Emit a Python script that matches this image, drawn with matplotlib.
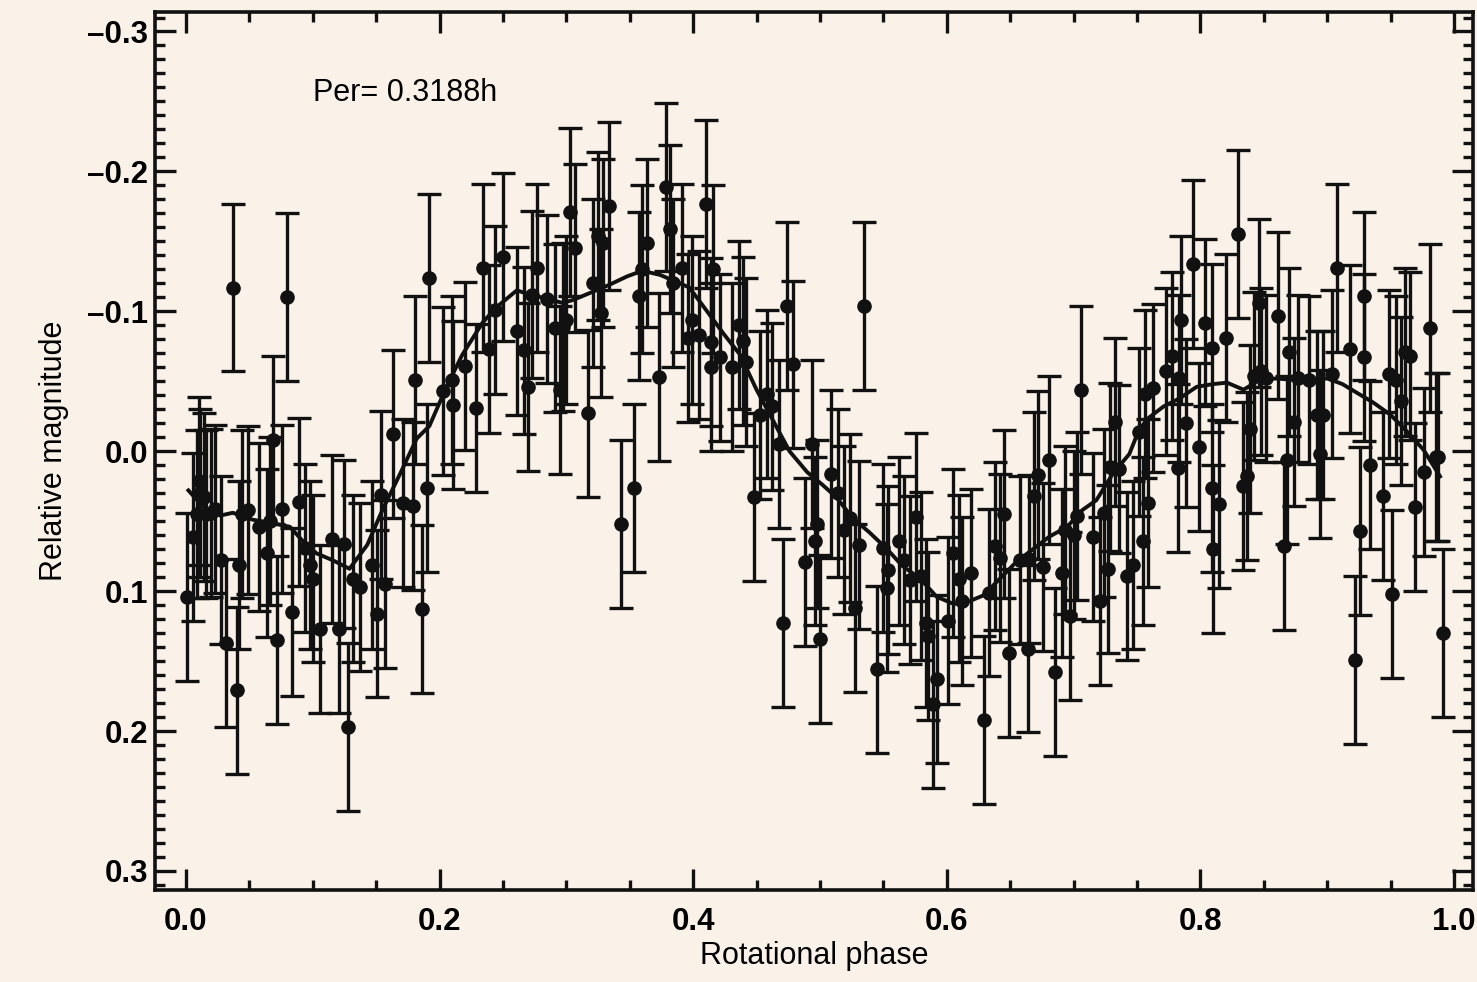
import numpy as np
import matplotlib
matplotlib.use('Agg')
import matplotlib.pyplot as plt
from matplotlib.ticker import MultipleLocator, FuncFormatter

# measured points (rotational phase, relative magnitude)
phase = [0.001, 0.006, 0.009, 0.010, 0.011, 0.014, 0.016, 0.020, 0.023, 0.028,
         0.032, 0.037, 0.040, 0.042, 0.044, 0.049, 0.058, 0.064, 0.066, 0.069,
         0.072, 0.076, 0.080, 0.084, 0.089,
         0.094, 0.098, 0.100, 0.106, 0.115, 0.121, 0.125, 0.128, 0.132, 0.137,
         0.147, 0.151, 0.154, 0.157, 0.163, 0.171, 0.179, 0.181, 0.186, 0.190,
         0.192,
         0.203, 0.210, 0.211, 0.220, 0.229, 0.234, 0.239, 0.244, 0.250, 0.261,
         0.267, 0.270, 0.273, 0.277, 0.285, 0.291, 0.295, 0.297,
         0.300, 0.303, 0.307, 0.317, 0.321, 0.325, 0.327, 0.329, 0.334, 0.343,
         0.353, 0.357, 0.360, 0.364, 0.373, 0.379, 0.382, 0.384, 0.391, 0.396,
         0.399,
         0.405, 0.410, 0.414, 0.414, 0.416, 0.421, 0.431, 0.436, 0.439, 0.442,
         0.448, 0.453, 0.458, 0.462, 0.468, 0.471, 0.474, 0.479, 0.488, 0.494,
         0.496, 0.498, 0.500,
         0.509, 0.514, 0.519, 0.524, 0.528, 0.531, 0.535, 0.545, 0.550, 0.553,
         0.554, 0.562, 0.566, 0.571, 0.576, 0.580, 0.584, 0.585, 0.589, 0.592,
         0.601, 0.605,
         0.610, 0.612, 0.619, 0.629, 0.633, 0.638, 0.642, 0.645, 0.649, 0.658,
         0.664, 0.665, 0.669, 0.672, 0.676, 0.681, 0.685, 0.691, 0.693, 0.697,
         0.700, 0.703, 0.706,
         0.715, 0.721, 0.724, 0.727, 0.729, 0.733, 0.736, 0.742, 0.747, 0.752,
         0.755, 0.756, 0.759, 0.763, 0.773, 0.778, 0.782, 0.783, 0.785, 0.789,
         0.794, 0.799, 0.804, 0.809, 0.809, 0.810,
         0.815, 0.820, 0.830, 0.834, 0.837, 0.839, 0.842, 0.846, 0.848, 0.852,
         0.861, 0.866, 0.868, 0.870, 0.874, 0.877, 0.886, 0.892, 0.894, 0.897,
         0.904, 0.908,
         0.918, 0.922, 0.926, 0.929, 0.929, 0.934, 0.944, 0.949, 0.951, 0.954,
         0.958, 0.961, 0.965, 0.969, 0.976, 0.981, 0.986, 0.987, 0.991]
mag = [0.104, 0.061, 0.045, 0.021, 0.030, 0.033, 0.045, 0.044, 0.041, 0.078,
       0.137, -0.117, 0.171, 0.081, 0.045, 0.042, 0.054, 0.073, 0.050, -0.008,
       0.135, 0.041, -0.110, 0.115, 0.036,
       0.069, 0.081, 0.091, 0.127, 0.063, 0.127, 0.066, 0.197, 0.091, 0.097,
       0.081, 0.116, 0.031, 0.095, -0.012, 0.037, 0.039, -0.051, 0.113, 0.026,
       -0.124,
       -0.043, -0.051, -0.033, -0.061, -0.031, -0.131, -0.073, -0.101, -0.139, -0.086,
       -0.072, -0.046, -0.112, -0.131, -0.109, -0.088, -0.044, -0.089,
       -0.094, -0.171, -0.145, -0.027, -0.120, -0.154, -0.099, -0.149, -0.175, 0.052,
       0.026, -0.111, -0.130, -0.149, -0.053, -0.189, -0.159, -0.120, -0.131, -0.081,
       -0.094,
       -0.083, -0.177, -0.078, -0.060, -0.130, -0.067, -0.060, -0.090, -0.079, -0.064,
       0.033, -0.026, -0.041, -0.032, -0.005, 0.123, -0.104, -0.062, 0.079, -0.005,
       0.064, 0.052, 0.134,
       0.016, 0.030, 0.056, 0.048, 0.112, 0.067, -0.104, 0.156, 0.069, 0.098,
       0.085, 0.064, 0.078, 0.092, 0.047, 0.089, 0.123, 0.132, 0.181, 0.163,
       0.121, 0.073,
       0.091, 0.107, 0.087, 0.192, 0.101, 0.068, 0.076, 0.045, 0.144, 0.078,
       0.141, 0.077, 0.032, 0.017, 0.083, 0.006, 0.158, 0.087, 0.056, 0.118,
       0.060, 0.046, -0.044,
       0.061, 0.107, 0.044, 0.084, 0.011, -0.021, 0.013, 0.089, 0.081, -0.014,
       0.064, -0.041, 0.037, -0.045, -0.057, -0.068, 0.012, -0.052, -0.094, -0.020,
       -0.134, -0.003, -0.092, -0.074, 0.026, 0.070,
       0.038, -0.081, -0.155, 0.025, 0.018, -0.016, -0.054, -0.106, -0.057, -0.052,
       -0.097, 0.068, 0.006, -0.071, -0.021, -0.052, -0.051, -0.026, 0.002, -0.026,
       -0.055, -0.131,
       -0.073, 0.149, 0.057, -0.111, -0.067, 0.010, 0.032, -0.055, 0.102, -0.051,
       -0.036, -0.071, -0.068, 0.040, 0.015, -0.088, 0.004, 0.004, 0.130]
err = 0.06

# smooth fit curve
fit_phase = [0.002, 0.013, 0.027, 0.037, 0.053, 0.066, 0.082, 0.092, 0.103, 0.116,
             0.129, 0.143, 0.155, 0.169, 0.182, 0.192, 0.206, 0.218, 0.234, 0.245,
             0.261, 0.271, 0.285, 0.297, 0.305, 0.321, 0.334, 0.348, 0.360, 0.374,
             0.387, 0.397, 0.411, 0.424, 0.437, 0.450, 0.463, 0.476, 0.490, 0.502,
             0.513, 0.526, 0.539, 0.553, 0.565, 0.579, 0.592, 0.605, 0.613, 0.629,
             0.642, 0.655, 0.668, 0.681, 0.695, 0.707, 0.718, 0.731, 0.744, 0.751,
             0.758, 0.771, 0.784, 0.797, 0.810, 0.821, 0.834, 0.847, 0.860, 0.873,
             0.886, 0.900, 0.912, 0.923, 0.936, 0.950, 0.963, 0.976, 0.989]
fit_mag = [0.028, 0.039, 0.046, 0.044, 0.049, 0.051, 0.054, 0.064, 0.073, 0.078,
           0.084, 0.067, 0.042, 0.016, -0.009, -0.018, -0.047, -0.069, -0.092, -0.103,
           -0.115, -0.112, -0.109, -0.106, -0.108, -0.114, -0.119, -0.125, -0.129, -0.126,
           -0.121, -0.117, -0.100, -0.084, -0.069, -0.044, -0.022, 0.000, 0.015, 0.024,
           0.033, 0.048, 0.058, 0.070, 0.082, 0.091, 0.104, 0.109, 0.109, 0.103,
           0.091, 0.079, 0.070, 0.061, 0.054, 0.042, 0.035, 0.016, 0.002, -0.014,
           -0.023, -0.032, -0.038, -0.046, -0.048, -0.049, -0.044, -0.051, -0.052, -0.051,
           -0.051, -0.052, -0.048, -0.042, -0.035, -0.026, -0.014, -0.001, 0.018]

bg = '#faf2e9'
ink = '#111111'

plt.rcParams['font.family'] = ['Liberation Sans', 'DejaVu Sans']

fig = plt.figure(figsize=(14.77, 9.82), dpi=100, facecolor=bg)
ax = fig.add_axes([0.1049, 0.0937, 0.8924, 0.8936], facecolor=bg)

ax.errorbar(phase, mag, yerr=err, fmt='o', color=ink, ms=9.5, elinewidth=2.4,
            capsize=8.5, capthick=2.4, zorder=2)
ax.plot(fit_phase, fit_mag, color=ink, lw=2.8, zorder=3)

ax.set_xlim(-0.0244, 1.0150)
ax.set_ylim(0.3136, -0.3136)

def fmt(v, pos):
    s = '%.1f' % abs(v)
    return '\u2013' + s if v < -1e-9 else s

ax.xaxis.set_major_locator(MultipleLocator(0.2))
ax.xaxis.set_minor_locator(MultipleLocator(0.05))
ax.yaxis.set_major_locator(MultipleLocator(0.1))
ax.yaxis.set_minor_locator(MultipleLocator(0.01))
ax.xaxis.set_major_formatter(FuncFormatter(fmt))
ax.yaxis.set_major_formatter(FuncFormatter(fmt))

ax.tick_params(which='both', direction='in', top=True, right=True, width=2.4,
               color=ink)
ax.tick_params(which='major', length=15)
ax.tick_params(which='minor', length=7)
ax.tick_params(axis='x', which='major', pad=12, labelsize=22.5)
ax.tick_params(axis='y', which='major', pad=5, labelsize=22.5)
for lab in ax.get_xticklabels() + ax.get_yticklabels():
    lab.set_fontweight('bold')
for sp in ax.spines.values():
    sp.set_linewidth(2.6)
    sp.set_color(ink)

ax.set_xlabel('Rotational phase', fontsize=22, labelpad=3)
ax.set_ylabel('Relative magnitude', fontsize=22, labelpad=13)

ax.text(0.100, -0.256, 'Per= 0.3188h', fontsize=22, va='center', ha='left')

fig.savefig('out.png', dpi=100, facecolor=bg)
